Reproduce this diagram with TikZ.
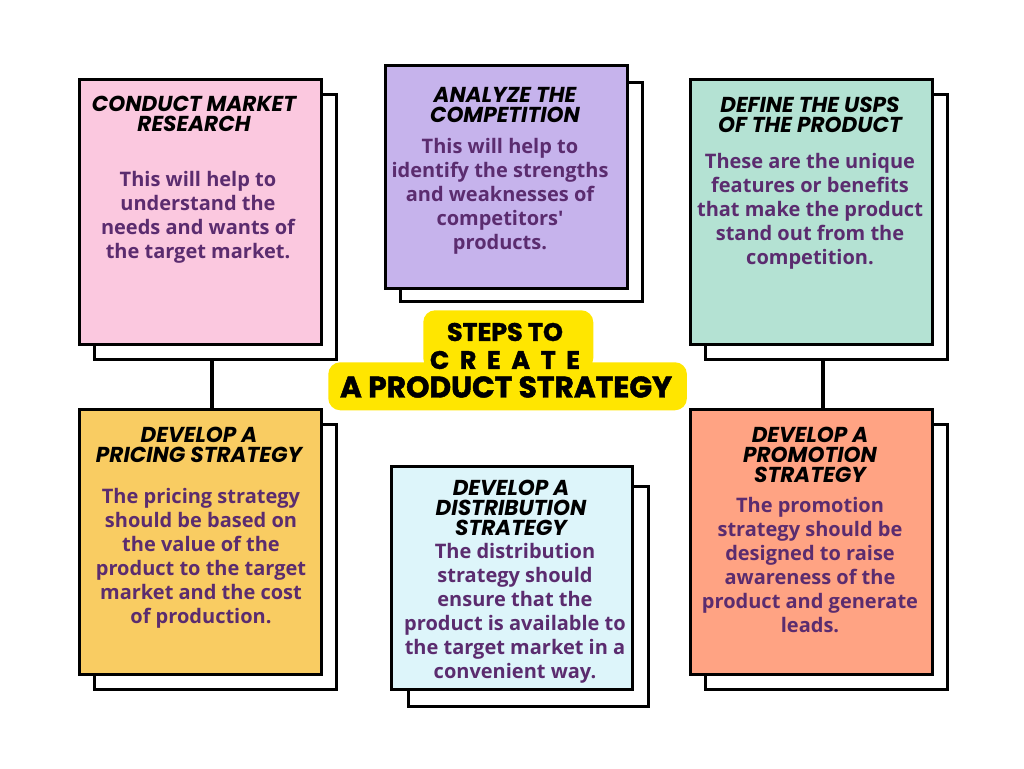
\documentclass[tikz,border=0pt]{standalone}
\usepackage{fontspec}
\newfontfamily\popfont{Poppins}
\newfontfamily\poptitle{Poppins}[BoldFeatures={FakeBold=1.6}]
\newfontfamily\bodyfont{Open Sans}
\definecolor{cpink}{HTML}{FBC8DF}
\definecolor{cpurple}{HTML}{C6B3EC}
\definecolor{cteal}{HTML}{B4E2D3}
\definecolor{cgold}{HTML}{F9CC62}
\definecolor{ccyan}{HTML}{DDF5FA}
\definecolor{csalmon}{HTML}{FFA383}
\definecolor{cyellow}{HTML}{FFE600}
\definecolor{ctext}{HTML}{5B2C6F}
\tikzset{
  backbox/.style={draw=black, line width=2.4pt, fill=white, anchor=north west, inner sep=0pt},
  frontbox/.style={draw=black, line width=2.4pt, fill=#1, anchor=north west, inner sep=0pt},
  headtext/.style={font=\popfont\bfseries\itshape\fontsize{16.2}{15}\selectfont, align=center, inner sep=0pt, text=black},
  bodytext/.style={font=\bodyfont\bfseries\fontsize{15}{18}\selectfont, align=center, inner sep=0pt, text=ctext},
  link/.style={draw=black, line width=2.4pt},
  titlebg/.style={fill=cyellow, rounded corners=9pt, draw=none, anchor=north west, inner sep=0pt},
  titletext/.style={font=\poptitle\bfseries\fontsize{19}{20}\selectfont, inner sep=0pt, text=black}
}
\begin{document}
\begin{tikzpicture}[x=0.75pt,y=-0.75pt]
\path[use as bounding box, fill=white] (0,0) rectangle (1024,768);
% back boxes
\node[backbox, minimum width=181.5pt, minimum height=198.75pt] (k1) at (93,93) {};
\node[backbox, minimum width=181.5pt, minimum height=164.25pt] (k2) at (399,81) {};
\node[backbox, minimum width=181.5pt, minimum height=198.75pt] (k3) at (704,93) {};
\node[backbox, minimum width=181.5pt, minimum height=198.75pt] (k4) at (93,423) {};
\node[backbox, minimum width=180pt, minimum height=165pt] (k5) at (407,485) {};
\node[backbox, minimum width=181.5pt, minimum height=198.75pt] (k6) at (704,423) {};
% front boxes
\node[frontbox=cpink, minimum width=181.5pt, minimum height=198.75pt] (b1) at (78,78) {};
\node[frontbox=cpurple, minimum width=181.5pt, minimum height=167pt] (b2) at (384,64) {};
\node[frontbox=cteal, minimum width=181.5pt, minimum height=198.75pt] (b3) at (689,78) {};
\node[frontbox=cgold, minimum width=181.5pt, minimum height=198.75pt] (b4) at (78,408) {};
\node[frontbox=ccyan, minimum width=180.75pt, minimum height=167.25pt] (b5) at (390,465) {};
\node[frontbox=csalmon, minimum width=181.5pt, minimum height=198.75pt] (b6) at (689,408) {};
% connectors
\coordinate (x1) at (212,0);
\coordinate (x3) at (823,0);
\draw[link] (k1.south -| x1) -- (b4.north -| x1);
\draw[link] (k3.south -| x3) -- (b6.north -| x3);
% title
\node[titlebg, minimum width=127.5pt, minimum height=45pt] (t1) at (423,310) {};
\node[titlebg, minimum width=269pt, minimum height=36pt] (t2) at (328,362) {};
\node[titletext] (tt1) at (505,332) {STEPS TO};
\node[titletext] (tt2) at (505,360) {C\hspace{0.42em}R\hspace{0.42em}E\hspace{0.42em}A\hspace{0.42em}T\hspace{0.42em}E};
\node[titletext, font=\poptitle\bfseries\fontsize{22.3}{22}\selectfont] (tt3) at (506,387) {A PRODUCT STRATEGY};
% headings
\node[headtext] (h1) at (194,114) {CONDUCT MARKET\\RESEARCH};
\node[headtext] (h2) at (505,105) {ANALYZE THE\\COMPETITION};
\node[headtext] (h3) at (810,115) {DEFINE THE USPS\\OF THE PRODUCT};
\node[headtext] (h4) at (199,445) {DEVELOP A\\PRICING STRATEGY};
\node[headtext] (h5) at (511,508) {DEVELOP A\\DISTRIBUTION\\STRATEGY};
\node[headtext] (h6) at (810,455) {DEVELOP A\\PROMOTION\\STRATEGY};
% body texts
\node[bodytext] (d1) at (198,217) {This will help to\\understand the\\needs and wants of\\the target market.};
\node[bodytext] (d2) at (500,196) {This will help to\\identify the strengths\\and weaknesses of\\competitors'\\products.};
\node[bodytext] (d3) at (810,211) {These are the unique\\features or benefits\\that make the product\\stand out from the\\competition.};
\node[bodytext] (d4) at (201,558) {The pricing strategy\\should be based on\\the value of the\\product to the target\\market and the cost\\of production.};
\node[bodytext] (d5) at (515,613) {The distribution\\strategy should\\ensure that the\\product is available to\\the target market in a\\convenient way.};
\node[bodytext] (d6) at (810,565) {The promotion\\strategy should be\\designed to raise\\awareness of the\\product and generate\\leads.};
\end{tikzpicture}
\end{document}
